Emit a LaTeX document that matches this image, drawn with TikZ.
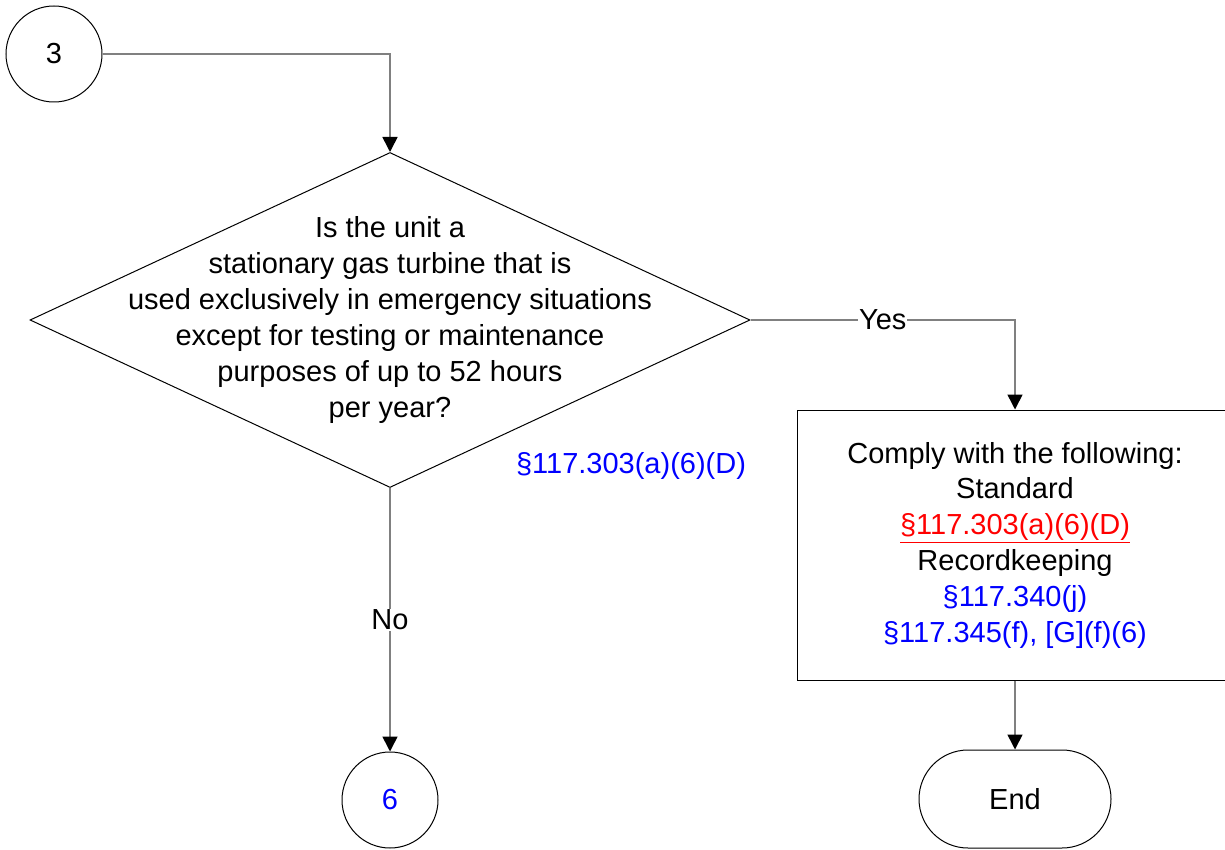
\documentclass[tikz,border=0pt]{standalone}
\usepackage{fontspec}
\setmainfont{Liberation Sans}
\usepackage{tikz}
\usetikzlibrary{shapes.geometric,arrows.meta}

\begin{document}
\begin{tikzpicture}[x=1pt, y=-1pt,
	every node/.style={font=\fontsize{29}{35.8}\selectfont},
	connector/.style={circle, draw, line width=1pt, minimum size=96pt, inner sep=0pt},
	flow/.style={draw=gray, line width=1.6pt, -{Triangle[length=15pt, width=15pt, color=black]}},
	lbl/.style={fill=white, inner sep=1pt},
	ref/.style={text=blue}]
	
	\useasboundingbox (0,0) rectangle (1225,850);
	
	\node [connector] (three) at (54,54) {3};
	\node [diamond, draw, line width=1pt, minimum width=720pt, minimum height=335pt, inner sep=0pt] (q) at (390,320) {};
	\node [align=center] (qtext) at (q.center) {Is the unit a\\stationary gas turbine that is\\used exclusively in emergency situations\\except for testing or maintenance\\purposes of up to 52 hours\\per year?};
	\node [ref] (qref) at (631,466) {§117.303(a)(6)(D)};
	\node [rectangle, draw, line width=1pt, minimum width=436pt, minimum height=270pt, align=center] (act) at (1015,545) {Comply with the following:\\Standard\\{\color{red}\underline{§117.303(a)(6)(D)}}\\Recordkeeping\\{\color{blue}§117.340(j)}\\{\color{blue}§117.345(f), [G](f)(6)}};
	\node [connector, ref] (six) at (390,800) {6};
	\node [rectangle, draw, line width=1pt, rounded corners=49pt, minimum width=192pt, minimum height=98pt] (end) at (1015,799) {End};
	
	\draw [flow] (three.east) -| (q.north);
	\draw [flow] (q.east) -| node [lbl, pos=0.25] {Yes} (act.north);
	\draw [flow] (q.south) -- node [lbl] {No} (six.north);
	\draw [flow] (act.south) -- (end.north);
\end{tikzpicture}
\end{document}
